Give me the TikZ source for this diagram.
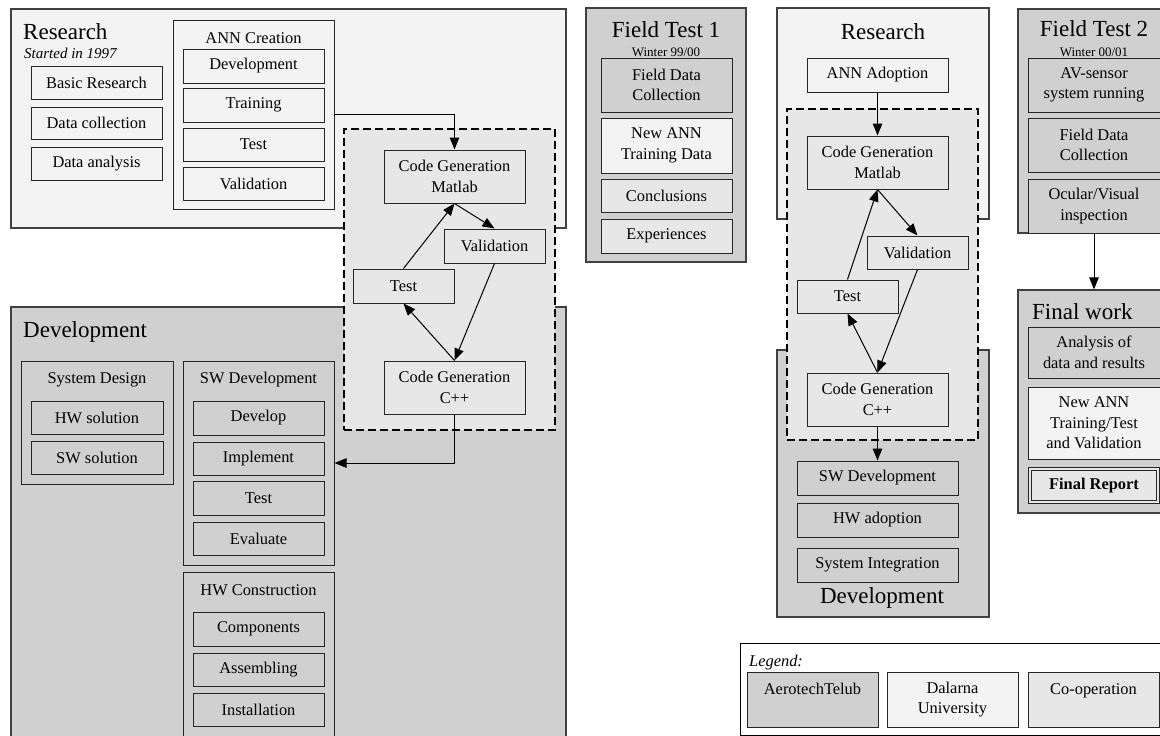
\documentclass[tikz,border=0pt]{standalone}
\usepackage{fontspec}
\setmainfont{Liberation Serif}
\usetikzlibrary{arrows.meta,positioning}
\definecolor{telubgray}{HTML}{D0D0D0}
\definecolor{dalarnagray}{HTML}{F3F3F3}
\definecolor{jointgray}{HTML}{E7E7E7}
\newcommand\diaboxfont{\fontsize{16.4}{20.5}\selectfont}
\newcommand\diaheadfont{\fontsize{23}{27}\selectfont}
\newcommand\diasmallfont{\fontsize{13}{15}\selectfont}
\newcommand\dianotefont{\fontsize{15}{18}\selectfont\itshape}
\tikzstyle{panel}=[rectangle,draw=black!75,line width=1.2pt,inner sep=0pt]
\tikzstyle{box}=[rectangle,draw=black!85,line width=1pt,inner sep=0pt,align=center,font=\diaboxfont]
\tikzstyle{telub}=[fill=telubgray]
\tikzstyle{dalarna}=[fill=dalarnagray]
\tikzstyle{joint}=[fill=jointgray]
\tikzstyle{group}=[rectangle,draw=black,line width=1.9pt,dash pattern=on 8pt off 4pt,fill=jointgray,inner sep=0pt]
\tikzstyle{heading}=[font=\diaheadfont,inner sep=0pt]
\tikzstyle{subhead}=[font=\diaboxfont,inner sep=0pt]
\tikzstyle{winter}=[font=\diasmallfont,inner sep=0pt]
\tikzstyle{note}=[font=\dianotefont,inner sep=0pt]
\tikzstyle{report}=[box,joint,double=jointgray,double distance=1.6pt,font=\diaboxfont\bfseries]
\tikzstyle{flow}=[-{Triangle[length=12pt,width=9.5pt]},line width=1pt]

\begin{document}
\begin{tikzpicture}[x=1pt,y=-1pt]

\useasboundingbox (0,0) rectangle (1160,736) ;
\clip (0,0) rectangle (1160,736) ;

% left: research
\node (res1) [panel,dalarna,minimum width=555pt,minimum height=219pt] at (288.5,118.5) {} ;
\node (res1-title) [heading,anchor=base west] at (23,39) {Research} ;
\node (res1-note) [note,anchor=base west] at (24,58) {Started in 1997} ;
\node (basic) [box,dalarna,minimum width=131pt,minimum height=33pt] at (96.5,82.5) {Basic Research} ;
\node (datacoll) [box,dalarna,minimum width=131pt,minimum height=32pt] at (96.5,123) {Data collection} ;
\node (dataana) [box,dalarna,minimum width=131pt,minimum height=33pt] at (96.5,163.5) {Data analysis} ;

\node (anncr) [box,dalarna,minimum width=161pt,minimum height=189pt] at (253.5,114.5) {} ;
\node (anncr-title) [subhead,anchor=base] at (253.5,43) {ANN Creation} ;
\node (anndev) [box,dalarna,minimum width=141pt,minimum height=34pt] at (253.5,66) {Development} ;
\node (train) [box,dalarna,minimum width=141pt,minimum height=34pt] at (253.5,105) {Training} ;
\node (anntest) [box,dalarna,minimum width=141pt,minimum height=33pt] at (253.5,144.5) {Test} ;
\node (annval) [box,dalarna,minimum width=141pt,minimum height=33pt] at (253.5,183.5) {Validation} ;

% left: development
\node (dev1) [panel,telub,minimum width=555pt,minimum height=438pt] at (288.5,526) {} ;
\node (dev1-title) [heading,anchor=base west] at (23,337) {Development} ;

\node (sysdes) [box,telub,minimum width=152pt,minimum height=123pt] at (97,422.5) {} ;
\node (sysdes-title) [subhead,anchor=base] at (97,383) {System Design} ;
\node (hwsol) [box,telub,minimum width=132pt,minimum height=33pt] at (97,417.5) {HW solution} ;
\node (swsol) [box,telub,minimum width=132pt,minimum height=33pt] at (97,457.5) {SW solution} ;

\node (swdev) [box,telub,minimum width=151pt,minimum height=204pt] at (258.5,463) {} ;
\node (swdev-title) [subhead,anchor=base] at (258.5,383) {SW Development} ;
\node (develop) [box,telub,minimum width=131pt,minimum height=34pt] at (258.5,418) {Develop} ;
\node (implement) [box,telub,minimum width=131pt,minimum height=33pt] at (258.5,458.5) {Implement} ;
\node (swtest) [box,telub,minimum width=131pt,minimum height=34pt] at (258.5,498) {Test} ;
\node (evaluate) [box,telub,minimum width=131pt,minimum height=33pt] at (258.5,538.5) {Evaluate} ;

\node (hwcon) [box,telub,minimum width=151pt,minimum height=164pt] at (258.5,654) {} ;
\node (hwcon-title) [subhead,anchor=base] at (258.5,595) {HW Construction} ;
\node (components) [box,telub,minimum width=131pt,minimum height=34pt] at (258.5,629) {Components} ;
\node (assembling) [box,telub,minimum width=131pt,minimum height=33pt] at (258.5,669.5) {Assembling} ;
\node (install) [box,telub,minimum width=131pt,minimum height=33pt] at (258.5,709.5) {Installation} ;

% left: code generation loop
\node (grp1) [group,minimum width=211pt,minimum height=301pt] at (449.5,279.5) {} ;
\node (cgm1) [box,joint,minimum width=141pt,minimum height=53pt] at (454.5,176.5) {Code Generation\\Matlab} ;
\node (val1) [box,joint,minimum width=101pt,minimum height=34pt] at (494.5,246) {Validation} ;
\node (test1) [box,joint,minimum width=101pt,minimum height=34pt] at (403.5,286) {Test} ;
\node (cgc1) [box,joint,minimum width=141pt,minimum height=53pt] at (454.5,387.5) {Code Generation\\C++} ;

\draw [flow] (anncr.east) -| (cgm1.north) ;
\draw [flow] (cgm1.south) -- (val1.north) ;
\draw [flow] (val1.south) -- (cgc1.north) ;
\draw [flow] (cgc1.north) -- (test1.south) ;
\draw [flow] (test1.north) -- (cgm1.south) ;
\draw [flow] (cgc1.south) |- (swdev.east) ;

% field test 1
\node (ft1) [panel,telub,minimum width=160pt,minimum height=254pt] at (666,135) {} ;
\node (ft1-title) [heading,anchor=base] at (666,37) {Field Test 1} ;
\node (ft1-date) [winter,anchor=base] at (666,56.5) {Winter 99/00} ;
\node (fdc1) [box,telub,minimum width=131pt,minimum height=54pt] at (666.5,85) {Field Data\\Collection} ;
\node (newann1) [box,dalarna,minimum width=131pt,minimum height=55pt] at (666.5,145.5) {New ANN\\Training Data} ;
\node (concl) [box,joint,minimum width=131pt,minimum height=33pt] at (666.5,195.5) {Conclusions} ;
\node (exper) [box,joint,minimum width=131pt,minimum height=34pt] at (666.5,236) {Experiences} ;

% right: research and development
\node (res2) [panel,dalarna,minimum width=212pt,minimum height=211pt] at (883,113.5) {} ;
\node (res2-title) [heading,anchor=base] at (883,39) {Research} ;
\node (annadopt) [box,dalarna,minimum width=141pt,minimum height=34pt] at (877.5,75) {ANN Adoption} ;

\node (dev2) [panel,telub,minimum width=212pt,minimum height=267pt] at (883,483.5) {} ;
\node (dev2-title) [heading,anchor=base] at (882,603) {Development} ;

\node (grp2) [group,minimum width=191pt,minimum height=331pt] at (882.5,274.5) {} ;
\node (cgm2) [box,joint,minimum width=141pt,minimum height=53pt] at (877.5,162.5) {Code Generation\\Matlab} ;
\node (val2) [box,joint,minimum width=101pt,minimum height=33pt] at (917.5,252.5) {Validation} ;
\node (test2) [box,joint,minimum width=101pt,minimum height=33pt] at (847.5,296.5) {Test} ;
\node (cgc2) [box,joint,minimum width=141pt,minimum height=53pt] at (877.5,399.5) {Code Generation\\C++} ;

\node (swdev2) [box,telub,minimum width=161pt,minimum height=34pt] at (877.5,478) {SW Development} ;
\node (hwadopt) [box,telub,minimum width=161pt,minimum height=34pt] at (877.5,520) {HW adoption} ;
\node (sysint) [box,telub,minimum width=161pt,minimum height=34pt] at (877.5,565) {System Integration} ;

\draw [flow] (annadopt.south) -- (cgm2.north) ;
\draw [flow] (cgm2.south) -- (val2.north) ;
\draw [flow] (val2.south) -- (cgc2.north) ;
\draw [flow] (cgc2.north) -- (test2.south) ;
\draw [flow] (test2.north) -- (cgm2.south) ;
\draw [flow] (cgc2.south) -- (swdev2.north) ;

% field test 2 and final work
\node (ft2) [panel,telub,minimum width=152pt,minimum height=224pt] at (1094,121) {} ;
\node (ft2-title) [heading,anchor=base] at (1094,36) {Field Test 2} ;
\node (ft2-date) [winter,anchor=base] at (1094,56.5) {Winter 00/01} ;
\node (avsensor) [box,telub,minimum width=132pt,minimum height=54pt] at (1094,85) {AV-sensor\\system running} ;
\node (fdc2) [box,telub,minimum width=132pt,minimum height=54pt] at (1094,145) {Field Data\\Collection} ;
\node (ocular) [box,telub,minimum width=132pt,minimum height=54pt] at (1094,206) {Ocular/Visual\\inspection} ;

\node (final) [panel,telub,minimum width=152pt,minimum height=223pt] at (1094,401.5) {} ;
\node (final-title) [heading,anchor=base west] at (1032,319) {Final work} ;
\node (analysis) [box,telub,minimum width=132pt,minimum height=51pt] at (1094,352.5) {Analysis of\\data and results} ;
\node (newann2) [box,dalarna,minimum width=132pt,minimum height=72pt] at (1094,423) {New ANN\\Training/Test\\and Validation} ;
\node (report) [report,minimum width=128pt,minimum height=33pt] at (1094,485.5) {Final Report} ;

\draw [flow] (ft2.south) -- (final.north) ;

% legend
\node (legend) [box,fill=white,draw=black,minimum width=432pt,minimum height=92pt] at (956,689) {} ;
\node (legend-title) [note,font=\diaboxfont\itshape,anchor=base west] at (749,666) {Legend:} ;
\node (leg-telub) [box,telub,minimum width=131pt,minimum height=55pt] at (812.5,699.5) {AerotechTelub\\\phantom{U}} ;
\node (leg-dalarna) [box,dalarna,minimum width=131pt,minimum height=55pt] at (952.5,699.5) {Dalarna\\University} ;
\node (leg-joint) [box,joint,minimum width=131pt,minimum height=55pt] at (1093.5,699.5) {Co-operation\\\phantom{U}} ;

\end{tikzpicture}
\end{document}
